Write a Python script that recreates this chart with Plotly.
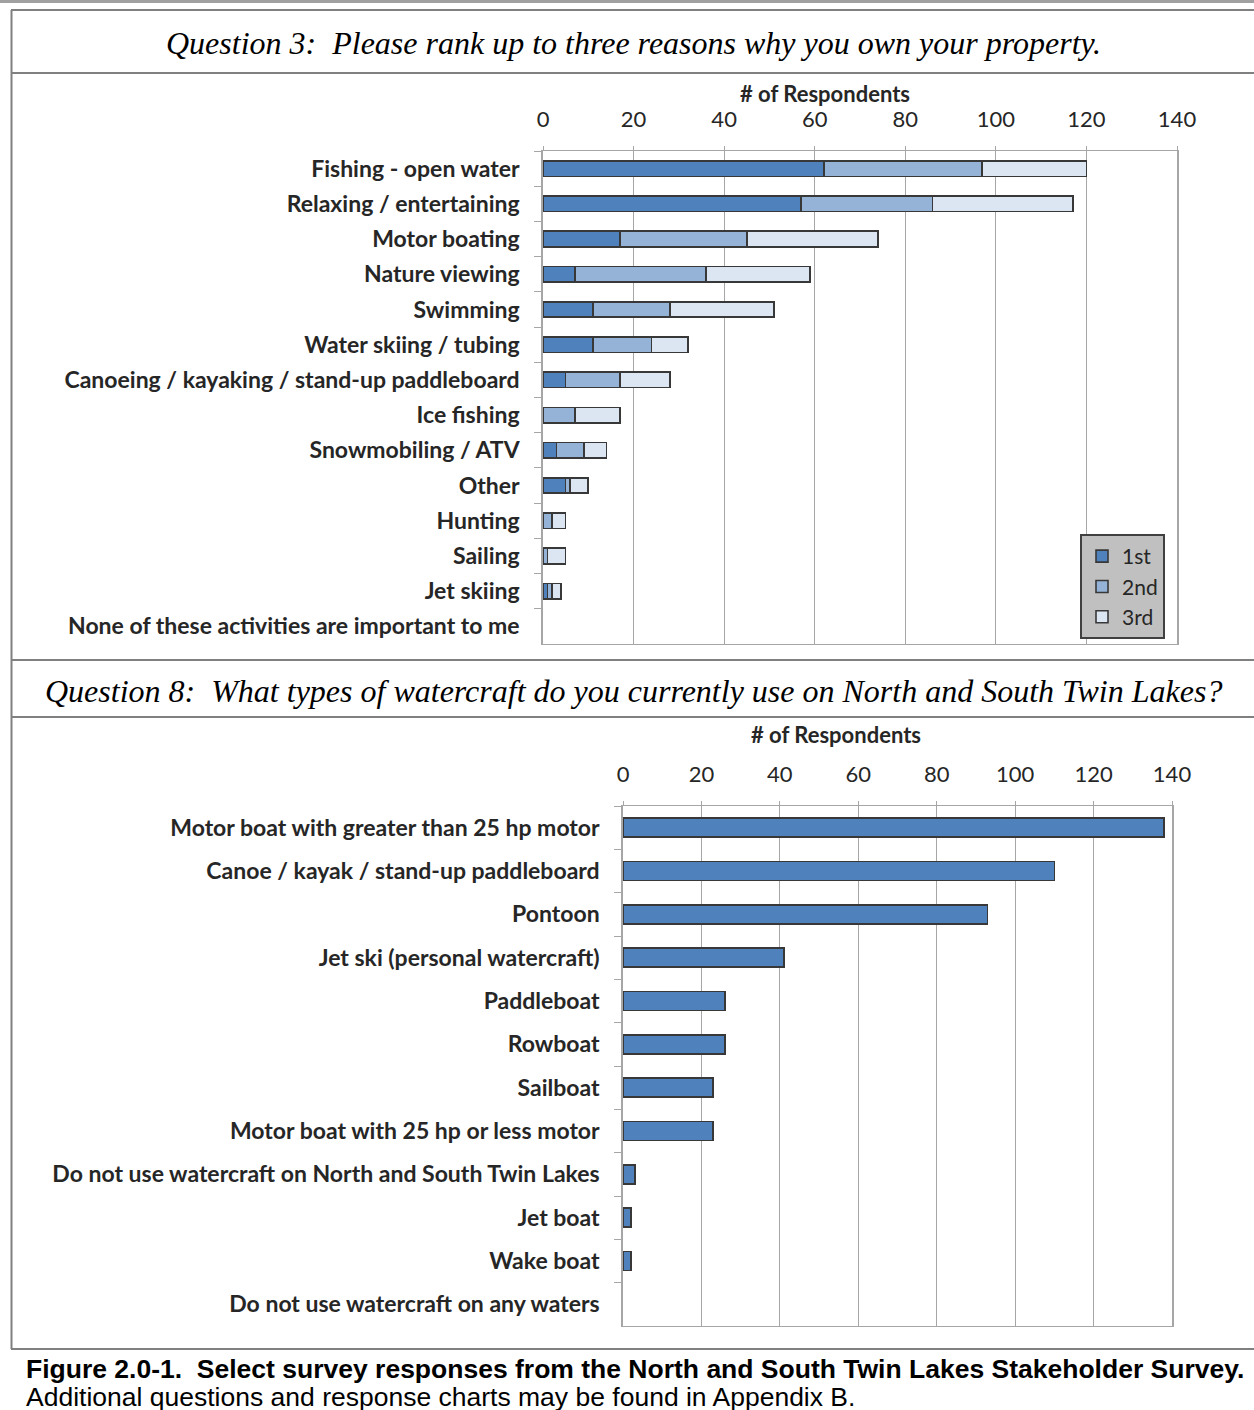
import plotly.graph_objects as go

W, H = 1254, 1410

# ---- Data ----
reasons = ["Fishing - open water", "Relaxing / entertaining", "Motor boating", "Nature viewing",
           "Swimming", "Water skiing / tubing", "Canoeing / kayaking / stand-up paddleboard",
           "Ice fishing", "Snowmobiling / ATV", "Other", "Hunting", "Sailing", "Jet skiing",
           "None of these activities are important to me"]
rank_1st = [62, 57, 17, 7, 11, 11, 5, 0, 3, 5, 0, 0, 1, 0]
rank_2nd = [35, 29, 28, 29, 17, 13, 12, 7, 6, 1, 2, 1, 1, 0]
rank_3rd = [23, 31, 29, 23, 23, 8, 11, 10, 5, 4, 3, 4, 2, 0]
rank_names = ["1st", "2nd", "3rd"]

watercraft = ["Motor boat with greater than 25 hp motor", "Canoe / kayak / stand-up paddleboard",
              "Pontoon", "Jet ski (personal watercraft)", "Paddleboat", "Rowboat", "Sailboat",
              "Motor boat with 25 hp or less motor",
              "Do not use watercraft on North and South Twin Lakes", "Jet boat", "Wake boat",
              "Do not use watercraft on any waters"]
watercraft_counts = [138, 110, 93, 41, 26, 26, 23, 23, 3, 2, 2, 0]

x_ticks = [0, 20, 40, 60, 80, 100, 120, 140]

# ---- Styles ----
colors = ["#4F81BD", "#95B3D7", "#DCE6F2"]
edge = "#383838"
edge_w = 1.6
grid = "#A6A6A6"
frame = "#808080"
label_font = dict(family="Lato", size=23, color="#262626", weight="bold")
tick_font = dict(family="Lato", size=22, color="#262626")


def px(x):
    return x / W


def py(y):
    return 1 - y / H


def outline(vals):
    # no outline on empty (zero) segments
    return [edge_w if v > 0 else 0 for v in vals]


fig = go.Figure()

for name, vals, c in zip(rank_names, [rank_1st, rank_2nd, rank_3rd], colors):
    fig.add_trace(go.Bar(
        y=reasons, x=vals, name=name, orientation="h",
        marker=dict(color=c, line=dict(color=edge, width=outline(vals))),
        xaxis="x", yaxis="y", showlegend=True,
    ))

fig.add_trace(go.Bar(
    y=watercraft, x=watercraft_counts, orientation="h",
    marker=dict(color=colors[0], line=dict(color=edge, width=outline(watercraft_counts))),
    xaxis="x2", yaxis="y2", showlegend=False,
))

xcommon = dict(range=[0, 140], tickvals=x_ticks, side="top", showgrid=True, gridcolor=grid,
               gridwidth=1, showline=True, linecolor=grid, linewidth=1, mirror=True,
               ticks="outside", ticklen=4, tickcolor=grid, tickfont=tick_font,
               ticklabelstandoff=10, zeroline=False, fixedrange=True, automargin=False)
ycommon = dict(type="category", autorange="reversed", showline=True, linecolor=grid,
               linewidth=1.5, mirror=True, ticks="outside", ticklen=7, tickcolor=grid,
               tickson="boundaries", tickfont=label_font, ticklabelstandoff=17,
               showgrid=False, fixedrange=True, automargin=False)

fig.update_layout(
    width=W, height=H,
    margin=dict(l=0, r=0, t=0, b=0, pad=0, autoexpand=False),
    paper_bgcolor="white", plot_bgcolor="white",
    barmode="stack", bargap=0.56,
    xaxis=dict(domain=[px(543), px(1177)], anchor="y", **xcommon),
    yaxis=dict(domain=[py(644), py(151)], anchor="x", categoryorder="array",
               categoryarray=reasons, **ycommon),
    xaxis2=dict(domain=[px(623), px(1172)], anchor="y2", **xcommon),
    yaxis2=dict(domain=[py(1326), py(806)], anchor="x2", categoryorder="array",
                categoryarray=watercraft, **ycommon),
    legend=dict(x=px(1080), y=py(534), xanchor="left", yanchor="top",
                bgcolor="#C0C0C0", bordercolor="#404040", borderwidth=2,
                font=dict(family="Lato", size=21, color="#262626"),
                traceorder="normal", itemwidth=30, tracegroupgap=0),
    showlegend=True,
)

# Frame lines
lines = [
    (0, 1.5, W, 1.5, "#A0A0A0", 3),
    (11, 10, W, 10, frame, 2),
    (11.5, 10, 11.5, 1349, frame, 2),
    (11, 73, W, 73, frame, 2),
    (11, 660, W, 660, frame, 2),
    (11, 717, W, 717, frame, 2),
    (11, 1349, W, 1349, frame, 2),
]
for x0, y0, x1, y1, c, w in lines:
    fig.add_shape(type="line", xref="paper", yref="paper",
                  x0=px(x0), y0=py(y0), x1=px(x1), y1=py(y1),
                  line=dict(color=c, width=w))

serif = dict(family="Liberation Serif", size=32, color="black")
resp_font = dict(family="Lato", size=22, color="#262626")
annos = [
    dict(text="<i>Question 3:\u00a0 Please rank up to three reasons why you own your property.</i>",
         x=px(633), y=py(43), xanchor="center", yanchor="middle", font=serif),
    dict(text="<i>Question 8:\u00a0 What types of watercraft do you currently use on North and South Twin Lakes?</i>",
         x=px(633), y=py(691), xanchor="center", yanchor="middle", font=serif),
    dict(text="<b># of Respondents</b>", x=px(825), y=py(94), xanchor="center", yanchor="middle",
         font=resp_font),
    dict(text="<b># of Respondents</b>", x=px(836), y=py(734), xanchor="center", yanchor="middle",
         font=resp_font),
    dict(text="<b>Figure 2.0-1.\u00a0 Select survey responses from the North and South Twin Lakes Stakeholder Survey.</b>",
         x=px(24), y=py(1369), xanchor="left", yanchor="middle",
         font=dict(family="Liberation Sans", size=26.5, color="black")),
    dict(text="Additional questions and response charts may be found in Appendix B.",
         x=px(24), y=py(1397), xanchor="left", yanchor="middle",
         font=dict(family="Liberation Sans", size=26.5, color="black")),
]
for a in annos:
    fig.add_annotation(xref="paper", yref="paper", showarrow=False, **a)

fig.write_html("out.html", config={"displayModeBar": False},
               post_script="document.body.style.margin='0';document.body.style.overflow='hidden';")
